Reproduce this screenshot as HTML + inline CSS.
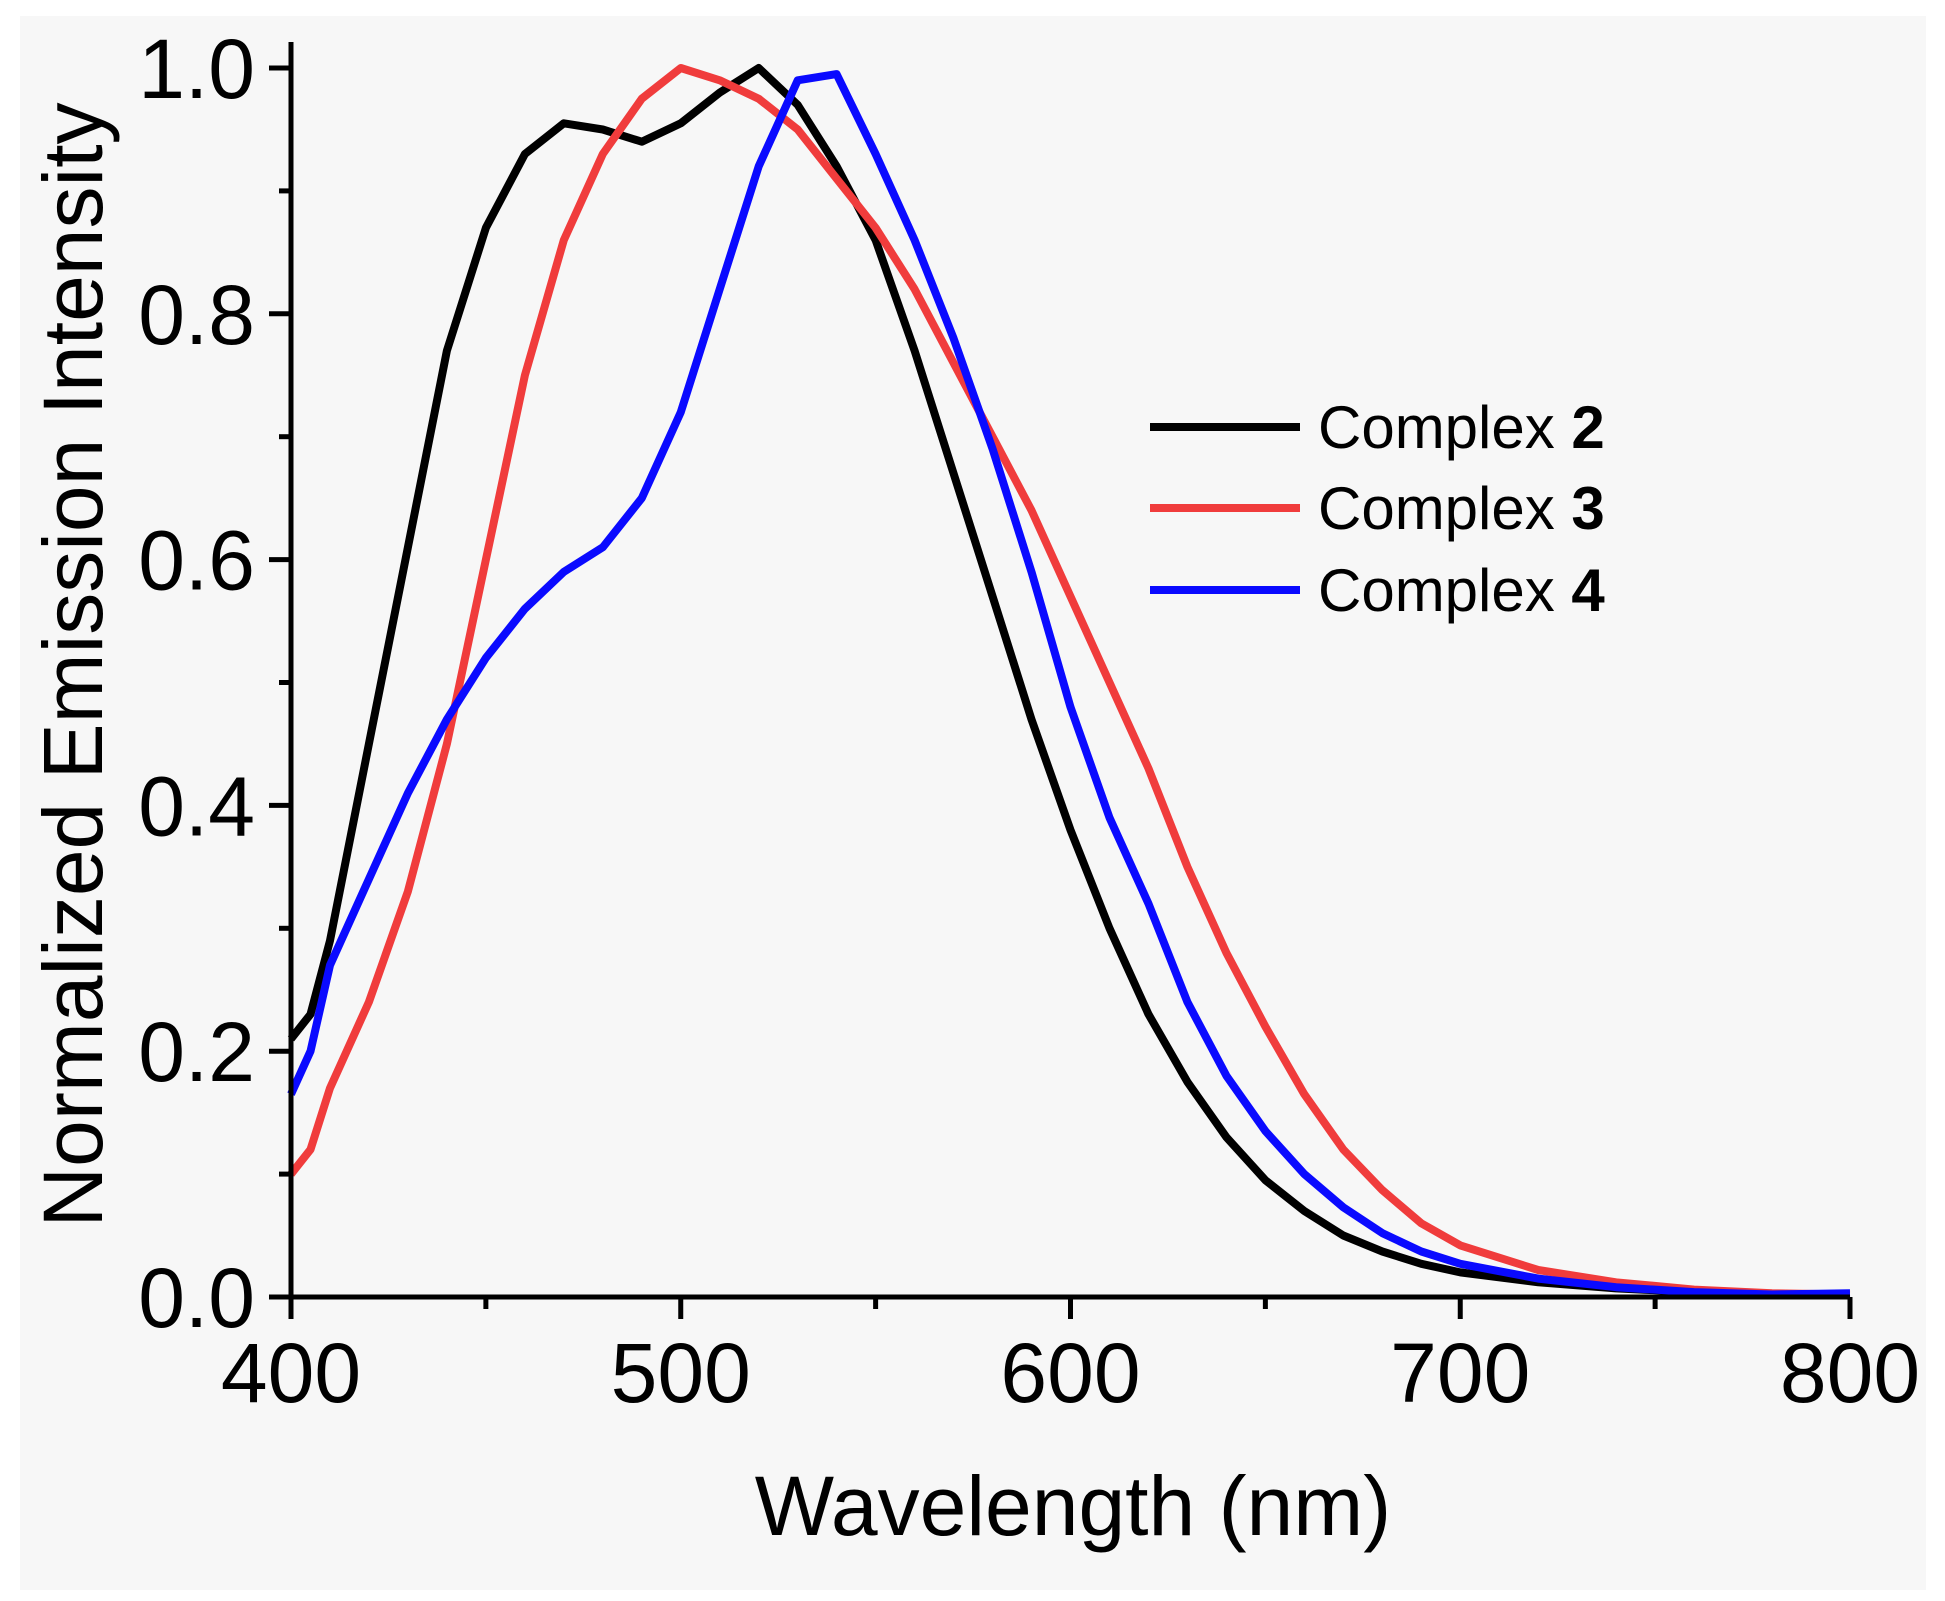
<!DOCTYPE html>
<html><head><meta charset="utf-8"><style>
html,body{margin:0;padding:0;background:#fff;}
svg{display:block;font-family:"Liberation Sans",Arial,sans-serif;}
</style></head><body>
<svg id="chart" width="1945" height="1601" viewBox="0 0 1945 1601" xmlns="http://www.w3.org/2000/svg">
<rect x="0" y="0" width="1945" height="1601" fill="#ffffff"/>
<rect x="20" y="16" width="1906" height="1574" fill="#f7f7f7"/>
<g id="series"></g>
<g id="axes"></g>
<text x="1073" y="1535" font-size="84" text-anchor="middle" fill="#000">Wavelength (nm)</text>
<text transform="translate(102,665) rotate(-90)" font-size="84" text-anchor="middle" fill="#000">Normalized Emission Intensity</text>
<g>
<line x1="1150" y1="427" x2="1300" y2="427" stroke="#000" stroke-width="8"/>
<text x="1318" y="448" font-size="60">Complex <tspan font-weight="bold">2</tspan></text>
<line x1="1150" y1="508" x2="1300" y2="508" stroke="#f03c3c" stroke-width="8"/>
<text x="1318" y="529" font-size="60">Complex <tspan font-weight="bold">3</tspan></text>
<line x1="1150" y1="590" x2="1300" y2="590" stroke="#0a0aff" stroke-width="8"/>
<text x="1318" y="611" font-size="60">Complex <tspan font-weight="bold">4</tspan></text>
</g>
</svg>
<script>
const wavelengths = [400,405,410,420,430,440,450,460,470,480,490,500,510,520,530,540,550,560,570,580,590,600,610,620,630,640,650,660,670,680,690,700,720,740,760,780,800];
const complex2 = [0.21,0.23,0.29,0.45,0.61,0.77,0.87,0.93,0.955,0.95,0.94,0.955,0.98,1.0,0.97,0.92,0.86,0.77,0.67,0.57,0.47,0.38,0.30,0.23,0.175,0.13,0.095,0.07,0.05,0.037,0.027,0.02,0.012,0.007,0.004,0.002,0.002];
const complex3 = [0.10,0.12,0.17,0.24,0.33,0.45,0.60,0.75,0.86,0.93,0.975,1.0,0.99,0.975,0.95,0.91,0.87,0.82,0.76,0.70,0.64,0.57,0.50,0.43,0.35,0.28,0.22,0.165,0.12,0.087,0.06,0.042,0.022,0.012,0.006,0.003,0.002];
const complex4 = [0.165,0.2,0.27,0.34,0.41,0.47,0.52,0.56,0.59,0.61,0.65,0.72,0.82,0.92,0.99,0.995,0.93,0.86,0.78,0.69,0.59,0.48,0.39,0.32,0.24,0.18,0.135,0.10,0.073,0.052,0.037,0.027,0.015,0.008,0.004,0.002,0.003];
const xTickLabels = ["400","500","600","700","800"];
const yTickLabels = ["0.0","0.2","0.4","0.6","0.8","1.0"];

const NS = "http://www.w3.org/2000/svg";
const X0 = 291, X1 = 1850, Y0 = 1297, Y1 = 68;
const xMin = 400, xMax = 800, yMin = 0, yMax = 1;
function xScale(v){ return X0 + (v - xMin) / (xMax - xMin) * (X1 - X0); }
function yScale(v){ return Y0 - (v - yMin) / (yMax - yMin) * (Y0 - Y1); }

const seriesG = document.getElementById('series');
function drawSeries(vals, color, name){
  let d = '';
  for (let i = 0; i < wavelengths.length; i++) {
    d += (i ? 'L' : 'M') + xScale(wavelengths[i]).toFixed(1) + ',' + yScale(vals[i]).toFixed(1);
  }
  const p = document.createElementNS(NS, 'path');
  p.setAttribute('d', d);
  p.setAttribute('fill', 'none');
  p.setAttribute('stroke', color);
  p.setAttribute('stroke-width', '8');
  p.setAttribute('stroke-linejoin', 'round');
  
  
  seriesG.appendChild(p);
}
drawSeries(complex2, '#000000', 'line-complex-2');
drawSeries(complex3, '#f03c3c', 'line-complex-3');
drawSeries(complex4, '#0a0aff', 'line-complex-4');

const axesG = document.getElementById('axes');
function line(x1,y1,x2,y2,name){
  const l = document.createElementNS(NS,'line');
  l.setAttribute('x1',x1); l.setAttribute('y1',y1); l.setAttribute('x2',x2); l.setAttribute('y2',y2);
  l.setAttribute('stroke','#000'); l.setAttribute('stroke-width','5');
  
  
  axesG.appendChild(l);
}
function text(x,y,s,anchor,name){
  const t = document.createElementNS(NS,'text');
  t.setAttribute('x',x); t.setAttribute('y',y); t.setAttribute('text-anchor',anchor);
  t.setAttribute('font-size','84'); t.textContent = s;
  
  
  axesG.appendChild(t);
}
line(X0, Y0, X1, Y0, 'x-axis-line');
line(X0, Y0, X0, Y1 - 26, 'y-axis-line');
for (let v = 400; v <= 800; v += 50) {
  const major = v % 100 === 0;
  line(xScale(v), Y0, xScale(v), Y0 + (major ? 22 : 12), major ? 'x-major-tick' : 'x-minor-tick');
}
xTickLabels.forEach(s => text(xScale(+s), Y0 + 105, s, 'middle', 'x-tick-label'));
for (let i = 0; i <= 10; i++) {
  const v = i / 10, major = i % 2 === 0;
  line(X0 - (major ? 22 : 12), yScale(v), X0, yScale(v), major ? 'y-major-tick' : 'y-minor-tick');
}
yTickLabels.forEach(s => text(X0 - 36, yScale(+s) + 30, s, 'end', 'y-tick-label'));
</script>
</body></html>
